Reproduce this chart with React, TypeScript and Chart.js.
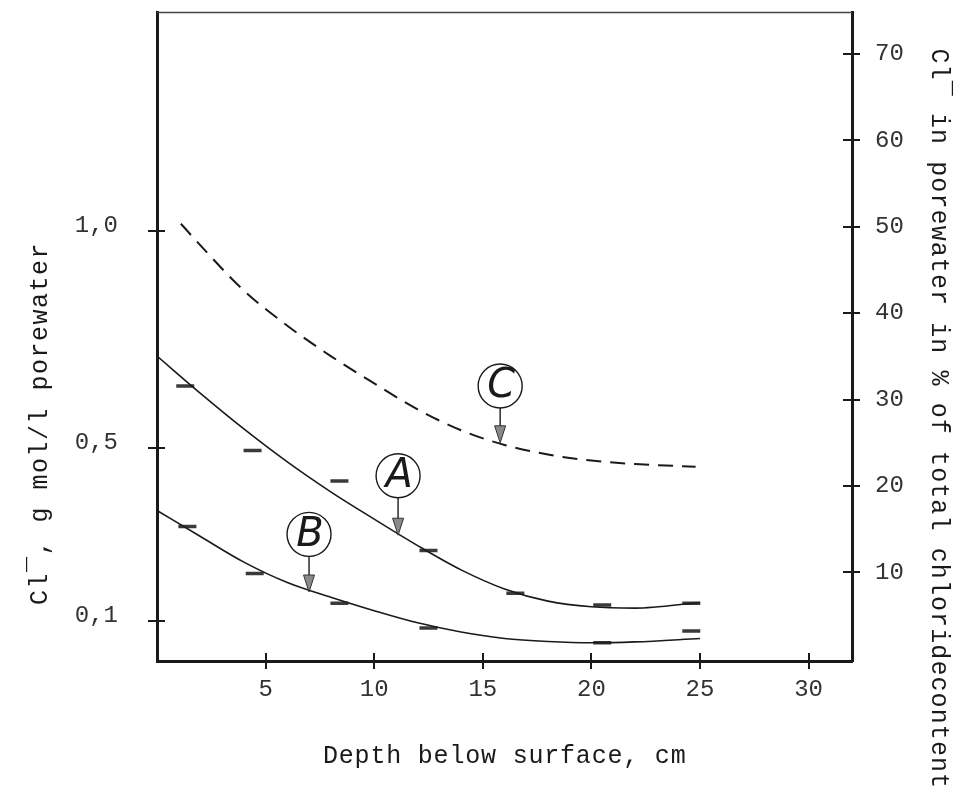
import React, { useEffect, useRef } from 'react';
import { Chart, registerables } from 'chart.js';

Chart.register(...registerables);

// ---------- data ----------
// depth below surface, cm
const depthA = [0, 2, 4, 6, 8, 10, 12, 14, 16, 18, 20, 22, 25];
const curveA = [0.711, 0.625, 0.543, 0.467, 0.398, 0.335, 0.274, 0.218, 0.174, 0.146, 0.133, 0.13, 0.143];

const depthB = [0, 2, 4, 6, 8, 10, 12, 14, 16, 18, 20, 22, 25];
const curveB = [0.355, 0.295, 0.236, 0.189, 0.155, 0.124, 0.096, 0.075, 0.06, 0.053, 0.05, 0.052, 0.06];

const depthC = [1.1, 2, 4, 6, 8, 10, 12, 14, 16, 18, 20, 22, 24.8];
const curveC = [1.016, 0.966, 0.862, 0.781, 0.711, 0.648, 0.588, 0.54, 0.506, 0.484, 0.47, 0.462, 0.456];

// measured samples (short dashes)
const sampleDepthA = [1.3, 4.4, 8.4, 12.5, 16.5, 20.5, 24.6];
const sampleA = [0.642, 0.493, 0.423, 0.263, 0.164, 0.137, 0.141];
const sampleDepthB = [1.4, 4.5, 8.4, 12.5, 20.5, 24.6];
const sampleB = [0.318, 0.21, 0.141, 0.084, 0.05, 0.077];

// tick values
const xTicks = [5, 10, 15, 20, 25, 30];
const leftTicks = [0.1, 0.5, 1.0];
const rightTicks = [10, 20, 30, 40, 50, 60, 70];

// curve labels (circled letters with arrows), in data units
const labelNames = ['A', 'B', 'C'];
const labelDepth = [11.1, 7.0, 15.8];
const labelLevel = [0.435, 0.3, 0.642];
const arrowTipLevel = [0.298, 0.167, 0.511];

// axis titles
const xTitle = 'Depth below surface, cm';
const leftTitle = 'Cl\u00AF, g mol/l porewater';
const rightTitle = 'Cl\u00AF in porewater in % of total chloridecontent';

const MONO = "'Liberation Mono', 'Courier New', monospace";
const INK = '#1a1a1a';

const toPts = (xs: number[], ys: number[]) => xs.map((x, i) => ({ x, y: ys[i] }));

const decorPlugin = {
  id: 'paperDecor',
  afterDraw(chart: any) {
    const { ctx, chartArea, scales } = chart;
    const x = scales.x;
    const y = scales.y;
    const y2 = scales.y2;
    ctx.save();

    // top frame line
    ctx.strokeStyle = '#444';
    ctx.lineWidth = 1.5;
    ctx.beginPath();
    ctx.moveTo(chartArea.left, chartArea.top);
    ctx.lineTo(chartArea.right, chartArea.top);
    ctx.stroke();

    // crossing tick marks
    ctx.strokeStyle = INK;
    ctx.lineWidth = 2;
    const t = 8;
    x.ticks.forEach((tk: any) => {
      const px = Math.round(x.getPixelForValue(tk.value));
      ctx.beginPath();
      ctx.moveTo(px, chartArea.bottom - t);
      ctx.lineTo(px, chartArea.bottom + t);
      ctx.stroke();
    });
    y.ticks.forEach((tk: any) => {
      const py = Math.round(y.getPixelForValue(tk.value));
      ctx.beginPath();
      ctx.moveTo(chartArea.left - t - 1, py);
      ctx.lineTo(chartArea.left + t, py);
      ctx.stroke();
    });
    y2.ticks.forEach((tk: any) => {
      const py = Math.round(y2.getPixelForValue(tk.value));
      ctx.beginPath();
      ctx.moveTo(chartArea.right - t - 1, py);
      ctx.lineTo(chartArea.right + t, py);
      ctx.stroke();
    });

    // circled labels with arrows
    const r = 22;
    labelNames.forEach((name, i) => {
      const cx = x.getPixelForValue(labelDepth[i]);
      const cy = y.getPixelForValue(labelLevel[i]);
      const tipY = y.getPixelForValue(arrowTipLevel[i]);
      ctx.strokeStyle = INK;
      ctx.lineWidth = 1.4;
      ctx.beginPath();
      ctx.arc(cx, cy, r, 0, Math.PI * 2);
      ctx.stroke();
      // shaft
      ctx.beginPath();
      ctx.moveTo(cx, cy + r);
      ctx.lineTo(cx, tipY - 10);
      ctx.stroke();
      // head
      ctx.beginPath();
      ctx.moveTo(cx, tipY);
      ctx.lineTo(cx - 5.5, tipY - 17);
      ctx.lineTo(cx + 5.5, tipY - 17);
      ctx.closePath();
      ctx.fillStyle = '#8a8a8a';
      ctx.fill();
      ctx.lineWidth = 1;
      ctx.strokeStyle = '#333';
      ctx.stroke();
      // letter
      ctx.fillStyle = INK;
      ctx.font = "italic 200 40px 'DejaVu Sans', sans-serif";
      ctx.textAlign = 'center';
      ctx.textBaseline = 'middle';
      ctx.fillText(name, cx + 1, cy + 1);
    });

    // axis titles
    ctx.fillStyle = INK;
    ctx.font = `25px ${MONO}`;
    ctx.textBaseline = 'alphabetic';
    ctx.textAlign = 'left';
    try { (ctx as any).letterSpacing = '0.8px'; } catch (e) {}
    ctx.fillText(xTitle, chartArea.left + 166, chartArea.bottom + 102);

    ctx.save();
    try { (ctx as any).letterSpacing = '1.5px'; } catch (e) {}
    ctx.translate(47, chartArea.bottom - 56);
    ctx.rotate(-Math.PI / 2);
    ctx.fillText(leftTitle, 0, 0);
    ctx.restore();

    ctx.save();
    try { (ctx as any).letterSpacing = '1.1px'; } catch (e) {}
    ctx.translate(chartArea.right + 80, chartArea.top + 36);
    ctx.rotate(Math.PI / 2);
    ctx.fillText(rightTitle, 0, 0);
    ctx.restore();

    try { (ctx as any).letterSpacing = '0px'; } catch (e) {}
    ctx.restore();
  },
};

export default function App() {
  const ref = useRef<HTMLCanvasElement>(null);

  useEffect(() => {
    const canvas = ref.current;
    if (!canvas) return;
    const tickFont = { family: MONO, size: 24 };
    const chart = new Chart(canvas, {
      type: 'line',
      data: {
        datasets: [
          {
            label: 'A',
            data: toPts(depthA, curveA),
            borderColor: INK,
            borderWidth: 1.6,
            pointRadius: 0,
            cubicInterpolationMode: 'monotone',
            fill: false,
          },
          {
            label: 'B',
            data: toPts(depthB, curveB),
            borderColor: INK,
            borderWidth: 1.6,
            pointRadius: 0,
            cubicInterpolationMode: 'monotone',
            fill: false,
          },
          {
            label: 'C',
            data: toPts(depthC, curveC),
            borderColor: INK,
            borderWidth: 2,
            borderDash: [15, 9],
            pointRadius: 0,
            cubicInterpolationMode: 'monotone',
            fill: false,
          },
          {
            type: 'scatter',
            label: 'A samples',
            data: toPts(sampleDepthA, sampleA),
            showLine: false,
            pointStyle: 'line',
            pointRadius: 9,
            pointBorderWidth: 3.5,
            borderColor: '#3a3a3a',
            backgroundColor: '#3a3a3a',
          },
          {
            type: 'scatter',
            label: 'B samples',
            data: toPts(sampleDepthB, sampleB),
            showLine: false,
            pointStyle: 'line',
            pointRadius: 9,
            pointBorderWidth: 3.5,
            borderColor: '#3a3a3a',
            backgroundColor: '#3a3a3a',
          },
        ] as any,
      },
      options: {
        responsive: false,
        animation: false,
        layout: { padding: { top: 10, left: 0, right: 0, bottom: 0 } },
        plugins: { legend: { display: false }, tooltip: { enabled: false } },
        scales: {
          x: {
            type: 'linear',
            position: 'bottom',
            min: 0,
            max: 32,
            afterBuildTicks: (s: any) => {
              s.ticks = xTicks.map((v) => ({ value: v }));
            },
            afterFit: (s: any) => {
              s.height = 142;
              s.paddingLeft = 0;
              s.paddingRight = 0;
            },
            ticks: {
              font: tickFont,
              color: '#333',
              padding: 14,
              maxRotation: 0,
              autoSkip: false,
              callback: (v: any) => String(v),
            },
            grid: { display: false, drawTicks: false },
            border: { display: true, width: 3, color: INK },
          },
          y: {
            type: 'linear',
            position: 'left',
            min: 0.008,
            max: 1.503,
            afterBuildTicks: (s: any) => {
              s.ticks = leftTicks.map((v) => ({ value: v }));
            },
            afterFit: (s: any) => {
              s.width = 157;
              s.paddingTop = 0;
              s.paddingBottom = 0;
            },
            ticks: {
              font: tickFont,
              color: '#333',
              padding: 39,
              labelOffset: -5,
              autoSkip: false,
              callback: (v: any) => Number(v).toFixed(1).replace('.', ','),
            },
            grid: { display: false, drawTicks: false },
            border: { display: true, width: 3, color: INK },
          },
          y2: {
            type: 'linear',
            position: 'right',
            min: -0.27,
            max: 74.8,
            afterBuildTicks: (s: any) => {
              s.ticks = rightTicks.map((v) => ({ value: v }));
            },
            afterFit: (s: any) => {
              s.width = 110;
              s.paddingTop = 0;
              s.paddingBottom = 0;
            },
            ticks: {
              font: tickFont,
              color: '#333',
              padding: 23,
              autoSkip: false,
              callback: (v: any) => String(v),
            },
            grid: { display: false, drawTicks: false },
            border: { display: true, width: 3, color: INK },
          },
        },
      } as any,
      plugins: [decorPlugin],
    });
    return () => chart.destroy();
  }, []);

  return (
    <div style={{ position: 'fixed', left: 0, top: 0, width: 962, height: 803, background: '#fff' }}>
      <canvas ref={ref} width={962} height={803} style={{ display: 'block', width: 962, height: 803 }} />
    </div>
  );
}
